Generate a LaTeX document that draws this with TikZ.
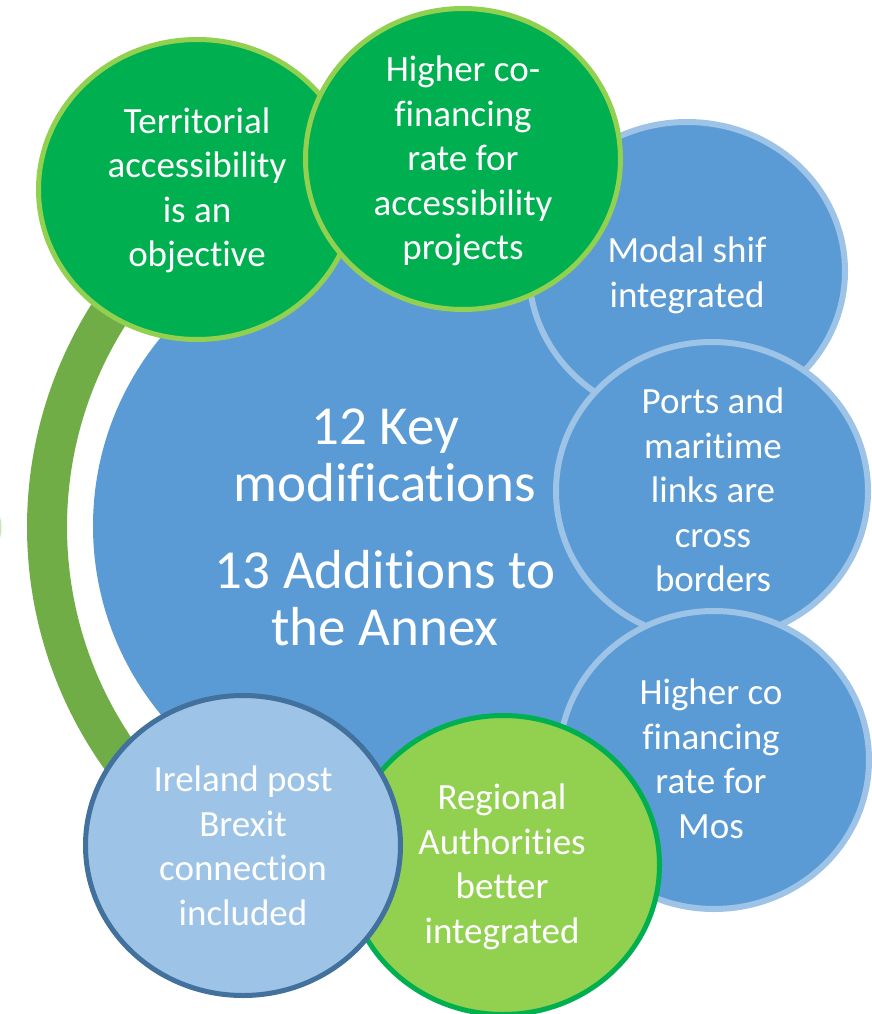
\documentclass[tikz,border=0pt]{standalone}
\usepackage{fontspec}
\setmainfont{Carlito}[Ligatures={NoCommon}]
\usetikzlibrary{shapes.geometric}

\definecolor{dkgreen}{HTML}{00B050}
\definecolor{ltgreen}{HTML}{92D050}
\definecolor{arcgreen}{HTML}{70AD47}
\definecolor{midblue}{HTML}{5B9BD5}
\definecolor{paleblue}{HTML}{9DC3E6}
\definecolor{darkblue}{HTML}{41719C}
\definecolor{mintgreen}{HTML}{C8E6BE}

\tikzset{
  bubble/.style={shape=ellipse, inner sep=0pt, outer sep=0pt},
  greenbub/.style={bubble, fill=dkgreen, draw=ltgreen, line width=5pt},
  bluebub/.style={bubble, fill=midblue, draw=paleblue, line width=6pt},
  irebub/.style={bubble, fill=paleblue, draw=darkblue, line width=5pt},
  regbub/.style={bubble, fill=ltgreen, draw=dkgreen, line width=5pt},
  bubtext/.style={text=white, align=center, inner sep=0pt,
    font=\fontsize{37}{44.5}\selectfont},
  bigtext/.style={text=white, align=center, inner sep=0pt,
    font=\fontsize{55}{57}\selectfont}
}

\begin{document}
\begin{tikzpicture}[x=1pt, y=-1pt]
  \useasboundingbox (0,0) rectangle (872,1014);

  % sliver at the left edge
  \fill[mintgreen] (-3,527.5) ellipse (4.5 and 14.5);

  % green ring segment on the left
  \coordinate (ringc) at (444,527);
  \draw[arcgreen, line width=40pt] (ringc) ++(142:397)
    arc[start angle=142, end angle=218, radius=397];

  % central circle
  \node[bubble, fill=midblue, minimum width=592pt, minimum height=592pt] (core) at (389,526) {};
  \node[bigtext] (coretext) at (385,533.6)
    {\strut 12 Key\\modifications\\[30pt]13 Additions to\\the Annex\strut};

  % right-hand column
  \node[bluebub, minimum width=316pt, minimum height=298pt] (modal) at (687,271) {};
  \node[bubtext] (modaltext) at (687,276) {\strut Modal shif\\integrated\strut};

  \node[bluebub, minimum width=312pt, minimum height=298pt] (ports) at (712,491) {};
  \node[bubtext] (portstext) at (713,494)
    {\strut Ports and\\maritime\\links are\\cross\\borders\strut};

  \node[bluebub, minimum width=310pt, minimum height=298pt] (mos) at (714,760) {};
  \node[bubtext] (mostext) at (711,762.6)
    {\strut Higher co\\financing\\rate for\\Mos\strut};

  % top pair
  \node[greenbub, minimum width=317pt, minimum height=300pt] (terr) at (197,189.5) {};
  \node[bubtext] (terrtext) at (197,191)
    {\strut Territorial\\accessibility\\is an\\objective\strut};

  \node[greenbub, minimum width=315pt, minimum height=301pt] (cofin) at (463,159) {};
  \node[bubtext] (cofintext) at (463,161.6)
    {\strut Higher co-\\financing\\rate for\\accessibility\\projects\strut};

  % bottom pair
  \node[regbub, minimum width=313pt, minimum height=299pt] (region) at (503,865) {};
  \node[bubtext] (regiontext) at (502,867.6)
    {\strut Regional\\Authorities\\better\\integrated\strut};

  \node[irebub, minimum width=315pt, minimum height=300pt] (ireland) at (243,845.5) {};
  \node[bubtext] (irelandtext) at (243,849.6)
    {\strut Ireland post\\Brexit\\connection\\included\strut};
\end{tikzpicture}
\end{document}
